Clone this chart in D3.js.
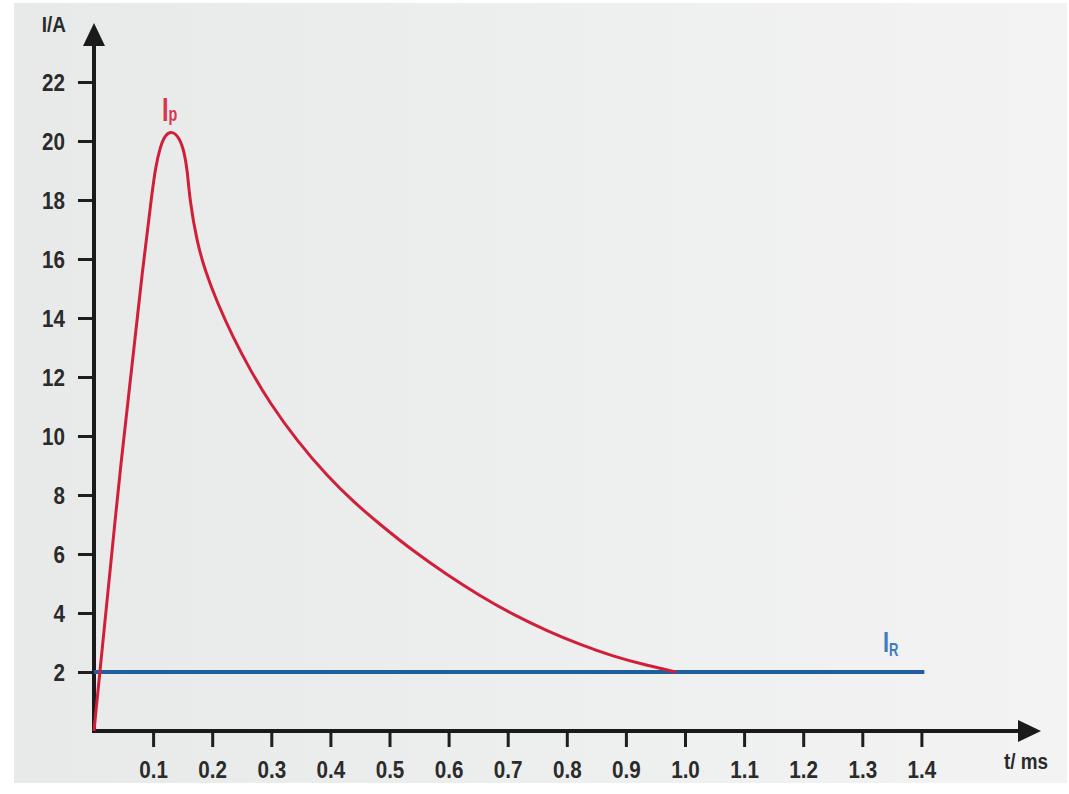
<!DOCTYPE html>
<html>
<head>
<meta charset="utf-8">
<script src="https://cdn.jsdelivr.net/npm/d3@7"></script>
<style>
  html, body { margin: 0; padding: 0; background: #fff; }
  svg { display: block; }
  .lbl { font-family: "Liberation Sans", Arial, sans-serif; font-weight: bold; fill: #2b2b2b; }
</style>
</head>
<body>
<svg id="chart" width="1069" height="794"></svg>
<script>
// tick values on both axes
var tickT = [0.1, 0.2, 0.3, 0.4, 0.5, 0.6, 0.7, 0.8, 0.9, 1.0, 1.1, 1.2, 1.3, 1.4];
var tickI = [2, 4, 6, 8, 10, 12, 14, 16, 18, 20, 22];

// pulse current Ip (t in ms, I in A)
var pulseT = [0, 0.047, 0.086, 0.098, 0.104, 0.112, 0.120, 0.132, 0.145, 0.153, 0.158, 0.162,
              0.174, 0.188, 0.208, 0.235, 0.264, 0.298, 0.343, 0.394, 0.440, 0.484, 0.540,
              0.597, 0.653, 0.709, 0.766, 0.822, 0.878, 0.936, 0.985];
var pulseI = [0, 9.5, 16.3, 18.2, 19.1, 19.8, 20.2, 20.35, 20.1, 19.6, 19.0, 18.0,
              16.6, 15.6, 14.55, 13.35, 12.25, 11.1, 9.85, 8.65, 7.75, 7.0, 6.1,
              5.3, 4.58, 3.95, 3.4, 2.93, 2.53, 2.22, 2.0];

// rest current IR
var restT = [0, 1.405];
var restI = [2, 2];

var svg = d3.select("#chart");

// background panel, slightly darker on the left
var defs = svg.append("defs");
var grad = defs.append("linearGradient").attr("id", "bg").attr("x1", "0").attr("x2", "1").attr("y1", "0").attr("y2", "0");
grad.append("stop").attr("offset", "0").attr("stop-color", "#e7eae9");
grad.append("stop").attr("offset", "1").attr("stop-color", "#f3f3f3");
svg.append("rect").attr("x", 14).attr("y", 3).attr("width", 1053).attr("height", 780).attr("fill", "url(#bg)");

var x = d3.scaleLinear().domain([0, 1.4]).range([94, 921.4]);
var y = d3.scaleLinear().domain([0, 22]).range([731, 82]);

var sx = 0.86; // squeeze the labels a bit, the original font is condensed

// axes (ticks only, the axis lines with arrows come after)
var yAxis = svg.append("g")
    .attr("transform", "translate(" + x(0) + ",0)")
    .call(d3.axisLeft(y).tickValues(tickI).tickSize(16).tickPadding(13));
var xAxis = svg.append("g")
    .attr("transform", "translate(0," + y(0) + ")")
    .call(d3.axisBottom(x).tickValues(tickT).tickSize(16).tickPadding(14).tickFormat(d3.format(".1f")));

[yAxis, xAxis].forEach(function(g){
    g.select(".domain").remove();
    g.selectAll(".tick line").attr("stroke", "#1e1e1e").attr("stroke-width", 3);
    g.selectAll(".tick text").attr("class", "lbl").attr("fill", "#2b2b2b")
        .style("font-size", "24px")
        .attr("transform", "scale(" + sx + ",1)");
});
yAxis.selectAll(".tick text").attr("x", -29 / sx).attr("dy", "0.36em");

// axis lines with arrow heads
svg.append("path")
    .attr("d", "M" + x(0) + "," + (y(0) + 2) + "V40")
    .attr("stroke", "#1a1a1a").attr("stroke-width", 4).attr("fill", "none");
svg.append("path")
    .attr("d", "M" + x(0) + ",23L" + (x(0) + 11) + ",46L" + (x(0) - 11) + ",46Z")
    .attr("fill", "#1a1a1a");
svg.append("path")
    .attr("d", "M" + (x(0) - 2) + "," + y(0) + "H1024")
    .attr("stroke", "#1a1a1a").attr("stroke-width", 4).attr("fill", "none");
svg.append("path")
    .attr("d", "M1041," + y(0) + "L1018," + (y(0) - 11) + "L1018," + (y(0) + 11) + "Z")
    .attr("fill", "#1a1a1a");

// axis titles
svg.append("text").attr("class", "lbl")
    .attr("transform", "translate(66,32) scale(" + sx + ",1)")
    .attr("text-anchor", "end").style("font-size", "22px").text("I/A");
svg.append("text").attr("class", "lbl")
    .attr("transform", "translate(1004,769) scale(" + sx + ",1)")
    .style("font-size", "22px").text("t/ ms");

var line = d3.line()
    .x(function(d){ return x(d[0]); })
    .y(function(d){ return y(d[1]); });

// rest current
svg.append("path")
    .datum(d3.zip(restT, restI))
    .attr("d", line)
    .attr("stroke", "#1f5f9e").attr("stroke-width", 4).attr("fill", "none");

// pulse current
svg.append("path")
    .datum(d3.zip(pulseT, pulseI))
    .attr("d", line.curve(d3.curveBasis))
    .attr("stroke", "#d11f3a").attr("stroke-width", 3).attr("fill", "none")
    .attr("stroke-linejoin", "round");

// curve labels
var ip = svg.append("text").attr("class", "lbl")
    .attr("transform", "translate(162,121) scale(0.72,1)")
    .style("font-size", "33px").style("fill", "#d8374f");
ip.append("tspan").text("I");
ip.append("tspan").attr("dy", 0).style("font-size", "20px").text("p");

var ir = svg.append("text").attr("class", "lbl")
    .attr("transform", "translate(883,652) scale(0.72,1)")
    .style("font-size", "30px").style("fill", "#3d7dbf");
ir.append("tspan").text("I");
ir.append("tspan").attr("dy", 4).style("font-size", "18px").text("R");
</script>
</body>
</html>
